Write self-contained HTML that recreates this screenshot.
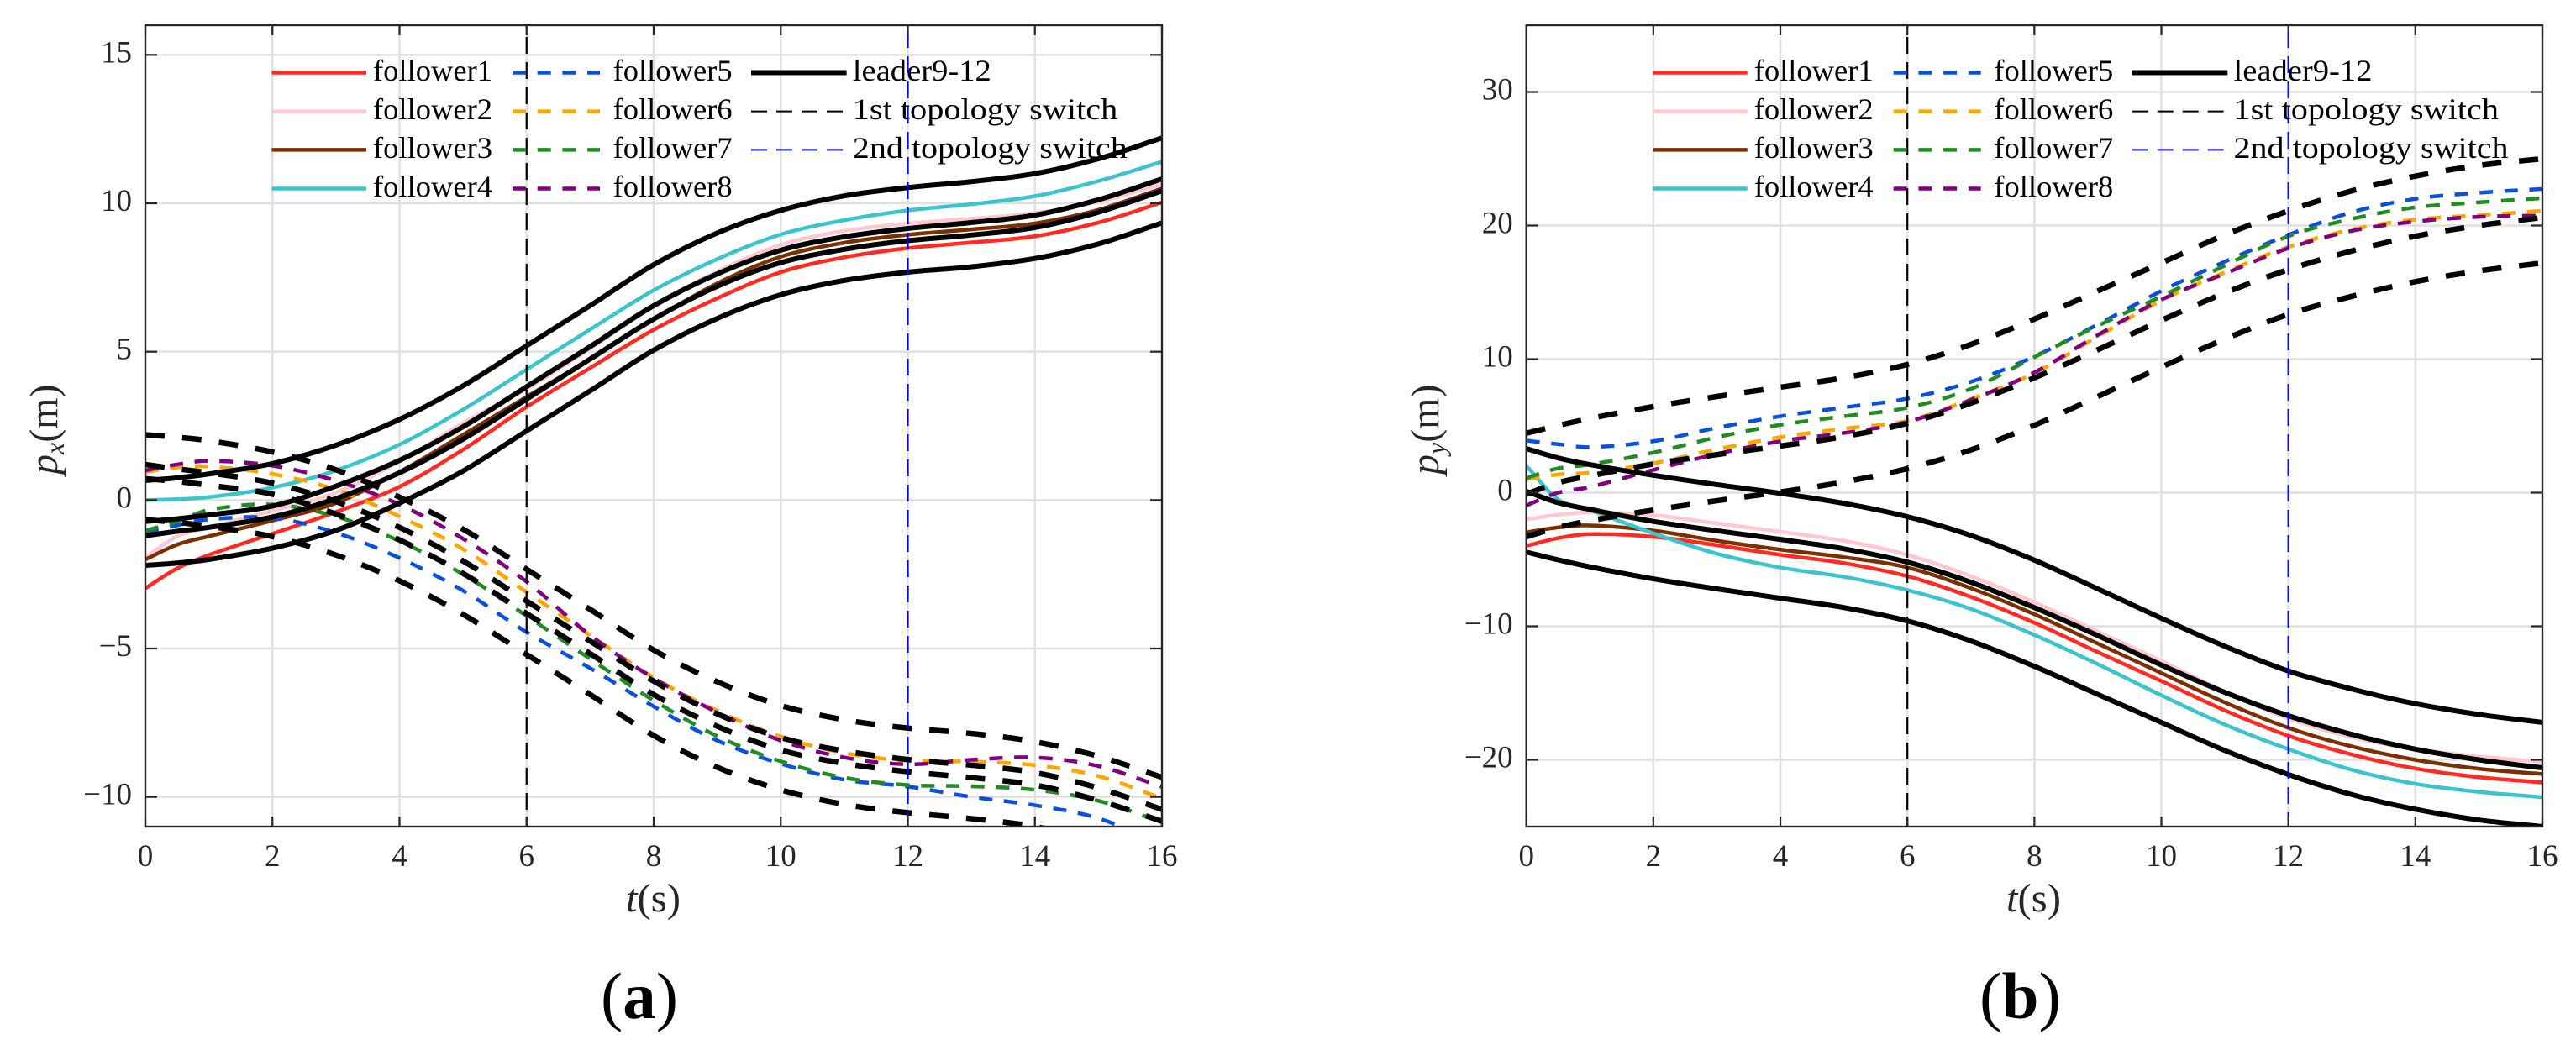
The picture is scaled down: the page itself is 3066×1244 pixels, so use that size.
<!DOCTYPE html>
<html lang="en">
<head>
<meta charset="utf-8">
<title>Follower and leader position trajectories</title>
<style>
html,body{margin:0;padding:0;background:#fff;}
svg{display:block;font-family:"Liberation Serif",serif;}
</style>
</head>
<body>
<svg id="figure" xmlns="http://www.w3.org/2000/svg" width="3066" height="1244" viewBox="0 0 3066 1244">
<rect width="3066" height="1244" fill="#ffffff"/>
<text x="715" y="1212" font-size="78" textLength="92" lengthAdjust="spacingAndGlyphs" fill="#000">(<tspan font-weight="bold">a</tspan>)</text>
<text x="2356" y="1212" font-size="78" textLength="97" lengthAdjust="spacingAndGlyphs" fill="#000">(<tspan font-weight="bold">b</tspan>)</text>
<text x="745" y="1085" font-size="48" textLength="65" lengthAdjust="spacingAndGlyphs" fill="#262626"><tspan font-style="italic">t</tspan>(s)</text>
<text x="2388" y="1085" font-size="48" textLength="65" lengthAdjust="spacingAndGlyphs" fill="#262626"><tspan font-style="italic">t</tspan>(s)</text>
<text transform="translate(68 565) rotate(-90)" font-size="48" fill="#262626"><tspan font-style="italic">p</tspan><tspan font-style="italic" font-size="32" dy="8">x</tspan><tspan dy="-8">(m)</tspan></text>
<text transform="translate(1712 565) rotate(-90)" font-size="48" fill="#262626"><tspan font-style="italic">p</tspan><tspan font-style="italic" font-size="32" dy="8">y</tspan><tspan dy="-8">(m)</tspan></text>
</svg>
<script>
// ---- shared data ----
const times = [0,0.5,1,2,3,4,5,6,7,8,9,10,11,12,13,14,15,16];
const xTicks = [0,2,4,6,8,10,12,14,16];
const switchTimes = [6,12];
const pxTicks = [-10,-5,0,5,10,15];
const pyTicks = [-20,-10,0,10,20,30];
const legendFollowers = ['follower1','follower2','follower3','follower4','follower5','follower6','follower7','follower8'];
const legendThird = ['leader9-12','1st topology switch','2nd topology switch'];

// ---- panel (a): p_x ----
const pxF1 = [-2.97,-2.3,-1.85,-1.13,-0.4,0.45,1.7,3.14,4.45,5.74,6.8,7.68,8.18,8.49,8.68,8.89,9.35,10.03];
const pxF2 = [-1.93,-1.22,-0.92,-0.36,0.25,1.3,2.6,3.75,5.1,6.55,7.7,8.6,9.07,9.32,9.48,9.67,10.05,10.65];
const pxF3 = [-2,-1.5,-1.22,-0.69,-0.1,0.95,2.2,3.48,4.75,6.08,7.3,8.2,8.67,8.94,9.12,9.32,9.78,10.5];
const pxF4 = [0,0.03,0.1,0.42,1,1.87,3.05,4.4,5.75,7.07,8.12,8.95,9.43,9.76,9.97,10.24,10.75,11.4];
const pxF5 = [-1.08,-0.85,-0.65,-0.6,-1.1,-1.95,-3.05,-4.45,-5.66,-6.95,-8.1,-8.88,-9.42,-9.65,-10,-10.28,-10.72,-11.6];
const pxF6 = [0.95,1.1,1.13,0.88,0.35,-0.55,-1.65,-3.1,-4.55,-5.98,-7.1,-7.97,-8.52,-8.78,-8.81,-8.93,-9.3,-10.05];
const pxF7 = [-1.03,-0.72,-0.33,-0.15,-0.55,-1.38,-2.5,-3.9,-5.35,-6.75,-7.95,-8.8,-9.35,-9.6,-9.64,-9.76,-10.13,-10.85];
const pxF8 = [1,1.2,1.32,1.16,0.65,-0.15,-1.3,-2.75,-4.55,-6,-7.15,-8.1,-8.67,-8.9,-8.75,-8.67,-8.96,-9.66];
const pxSolidA = [0.66,0.75,0.88,1.23,1.85,2.72,3.85,5.2,6.55,7.93,9,9.76,10.25,10.53,10.73,11,11.5,12.2];
const pxSolidB = [-0.72,-0.63,-0.5,-0.2,0.47,1.34,2.47,3.82,5.17,6.55,7.62,8.42,8.87,9.15,9.35,9.6,10.12,10.82];
const pxSolidC = [-1.2,-1.05,-0.92,-0.57,0.05,0.92,2.05,3.4,4.75,6.1,7.2,8,8.45,8.74,8.93,9.18,9.7,10.42];
const pxSolidD = [-2.2,-2.12,-2,-1.62,-1.02,-0.1,0.98,2.33,3.68,5.05,6.12,6.92,7.4,7.68,7.86,8.14,8.63,9.34];
const pxDashA = [-0.66,-0.75,-0.88,-1.23,-1.85,-2.72,-3.85,-5.2,-6.55,-7.93,-9,-9.76,-10.25,-10.53,-10.73,-11,-11.5,-12.2];
const pxDashB = [0.72,0.63,0.5,0.2,-0.47,-1.34,-2.47,-3.82,-5.17,-6.55,-7.62,-8.42,-8.87,-9.15,-9.35,-9.6,-10.12,-10.82];
const pxDashC = [1.2,1.05,0.92,0.57,-0.05,-0.92,-2.05,-3.4,-4.75,-6.1,-7.2,-8,-8.45,-8.74,-8.93,-9.18,-9.7,-10.42];
const pxDashD = [2.2,2.12,2,1.62,1.02,0.1,-0.98,-2.33,-3.68,-5.05,-6.12,-6.92,-7.4,-7.68,-7.86,-8.14,-8.63,-9.34];

// ---- panel (b): p_y ----
const pyF1 = [-3.98,-3.4,-3.1,-3.3,-3.93,-4.65,-5.27,-6.25,-7.8,-9.74,-11.94,-14.1,-16.3,-18.2,-19.6,-20.65,-21.3,-21.7];
const pyF2 = [-2,-1.65,-1.48,-1.68,-2.3,-2.92,-3.6,-4.65,-6.25,-8.2,-10.4,-12.6,-14.9,-16.9,-18.3,-19.2,-19.75,-20.15];
const pyF3 = [-2.97,-2.6,-2.45,-2.84,-3.6,-4.26,-4.83,-5.6,-7.15,-9.1,-11.3,-13.5,-15.7,-17.6,-19,-20,-20.67,-21.06];
const pyF4 = [2,-0.5,-1.3,-3.04,-4.57,-5.6,-6.3,-7.29,-8.7,-10.65,-12.84,-15.17,-17.36,-19.2,-20.75,-21.8,-22.4,-22.8];
const pyF5 = [3.9,3.63,3.41,3.85,4.86,5.72,6.38,7.05,8.3,10.2,12.6,15.1,17.3,19.3,21,22,22.46,22.74];
const pyF6 = [1,1.36,1.5,2.2,3.25,4.15,4.8,5.38,7,8.95,11.7,14.4,16.5,18.4,19.7,20.45,20.77,21.1];
const pyF7 = [1.1,1.82,2.1,3,4.15,5.08,5.72,6.36,7.77,10.15,12.5,14.7,17,19.2,20.5,21.36,21.74,22.05];
const pyF8 = [-0.95,0,0.42,1.7,2.9,3.85,4.47,5.3,6.95,9,11.8,14.45,16.4,18.3,19.6,20.3,20.65,20.75];
const pySolidA = [3.3,2.6,2.1,1.3,0.6,-0.05,-0.8,-1.8,-3.2,-5.05,-7.2,-9.4,-11.5,-13.35,-14.7,-15.8,-16.6,-17.2];
const pySolidB = [0.1,-0.75,-1.25,-2.15,-2.85,-3.5,-4.2,-5.2,-6.7,-8.6,-10.7,-12.9,-14.95,-16.7,-18.1,-19.2,-20,-20.6];
const pySolidC = [-4.45,-5.03,-5.55,-6.45,-7.2,-7.9,-8.6,-9.6,-11.1,-13,-15.1,-17.2,-19.3,-21.1,-22.6,-23.7,-24.5,-25];
const pyDashA = [-3.3,-2.6,-2.1,-1.3,-0.6,0.05,0.8,1.8,3.2,5.05,7.2,9.4,11.5,13.35,14.7,15.8,16.6,17.2];
const pyDashB = [-0.1,0.75,1.25,2.15,2.85,3.5,4.2,5.2,6.7,8.6,10.7,12.9,14.95,16.7,18.1,19.2,20,20.6];
const pyDashC = [4.45,5.03,5.55,6.45,7.2,7.9,8.6,9.6,11.1,13,15.1,17.2,19.3,21.1,22.6,23.7,24.5,25];

const COLORS = ['#ff2a22','#ffc8d0','#7a3000','#3cc4cc','#0a50e0','#ffa500','#228b22','#800080'];
const NS = 'http://www.w3.org/2000/svg';
const svg = document.getElementById('figure');

function make(parent, tag, attrs, text) {
  const el = document.createElementNS(NS, tag);
  for (const k in attrs) el.setAttribute(k, attrs[k]);
  if (text !== undefined) el.textContent = text;
  parent.appendChild(el);
  return el;
}

function linearScale(d0, d1, r0, r1) {
  return v => r0 + (v - d0) * (r1 - r0) / (d1 - d0);
}

// Smooth curve through the data points (Catmull-Rom to Bezier)
function curvePath(xs, ys, sx, sy) {
  const p = xs.map((x, i) => [sx(x), sy(ys[i])]);
  let d = 'M' + p[0][0].toFixed(2) + ' ' + p[0][1].toFixed(2);
  for (let i = 0; i < p.length - 1; i++) {
    const p0 = p[Math.max(i - 1, 0)], p1 = p[i], p2 = p[i + 1], p3 = p[Math.min(i + 2, p.length - 1)];
    const h = p2[0] - p1[0];
    const m1 = (p2[1] - p0[1]) / ((p2[0] - p0[0]) || 1);
    const m2 = (p3[1] - p1[1]) / ((p3[0] - p1[0]) || 1);
    d += 'C' + (p1[0] + h / 3).toFixed(2) + ' ' + (p1[1] + m1 * h / 3).toFixed(2) + ' ' +
         (p2[0] - h / 3).toFixed(2) + ' ' + (p2[1] - m2 * h / 3).toFixed(2) + ' ' +
         p2[0].toFixed(2) + ' ' + p2[1].toFixed(2);
  }
  return d;
}

function drawPanel(cfg) {
  const L = cfg.left, R = cfg.right, T = 30, B = 984;
  const sx = linearScale(0, 16, L, R);
  const sy = linearScale(cfg.yMin, cfg.yMax, B, T);
  const g = make(svg, 'g', {});
  
  

  const defs = make(g, 'defs', {});
  const clip = make(defs, 'clipPath', {id: cfg.id + '-clip'});
  make(clip, 'rect', {x: L, y: T, width: R - L, height: B - T});

  // grid
  xTicks.forEach(v => {
    if (v === 0 || v === 16) return;
    const grid = make(g, 'line', {x1: sx(v), x2: sx(v), y1: T, y2: B, stroke: '#e0e0e0', 'stroke-width': 2.5});
    
    
  });
  cfg.yTicks.forEach(v => {
    const grid = make(g, 'line', {x1: L, x2: R, y1: sy(v), y2: sy(v), stroke: '#e0e0e0', 'stroke-width': 2.5});
    
    
  });

  // series
  const plot = make(g, 'g', {'clip-path': 'url(#' + cfg.id + '-clip)'});
  
  
  cfg.followers.forEach((vals, i) => {
    const dashed = i >= 4;
    const attrs = {d: curvePath(times, vals, sx, sy), fill: 'none', stroke: COLORS[i], 'stroke-width': 4.5};
    if (dashed) attrs['stroke-dasharray'] = '16 13.7';
    const line = make(plot, 'path', attrs);
    
    
  });
  cfg.solid.forEach(vals => {
    const line = make(plot, 'path', {d: curvePath(times, vals, sx, sy), fill: 'none', stroke: '#000', 'stroke-width': 6});
    
    
  });
  cfg.dashed.forEach(vals => {
    const line = make(plot, 'path', {d: curvePath(times, vals, sx, sy), fill: 'none', stroke: '#000', 'stroke-width': 6.5, 'stroke-dasharray': '23 21'});
    
    
  });

  // topology switch markers
  switchTimes.forEach((v, i) => {
    const line = make(g, 'line', {x1: sx(v), x2: sx(v), y1: T, y2: B, stroke: i === 0 ? '#000' : '#0000ff', 'stroke-width': 2.2, 'stroke-dasharray': '20 10', 'stroke-dashoffset': i === 0 ? 16 : 23});
    
    
  });

  // axes box
  const box = make(g, 'rect', {x: L, y: T, width: R - L, height: B - T, fill: 'none', stroke: '#262626', 'stroke-width': 2.4});
  
  

  // ticks + labels
  xTicks.forEach(v => {
    const x = sx(v);
    const tickB = make(g, 'line', {x1: x, x2: x, y1: B, y2: B - 12, stroke: '#262626', 'stroke-width': 2.2});
    
    
    const tickT = make(g, 'line', {x1: x, x2: x, y1: T, y2: T + 12, stroke: '#262626', 'stroke-width': 2.2});
    
    
    const label = make(g, 'text', {x: x, y: 1031, 'text-anchor': 'middle', 'font-size': 37, fill: '#262626'}, String(v));
    
    
  });
  cfg.yTicks.forEach(v => {
    const y = sy(v);
    const tickL = make(g, 'line', {x1: L, x2: L + 14, y1: y, y2: y, stroke: '#262626', 'stroke-width': 2.2});
    
    
    const tickR = make(g, 'line', {x1: R, x2: R - 14, y1: y, y2: y, stroke: '#262626', 'stroke-width': 2.2});
    
    
    const label = make(g, 'text', {x: L - 16, y: y + 9, 'text-anchor': 'end', 'font-size': 37, fill: '#262626'}, (v < 0 ? '\u2212' : '') + Math.abs(v));
    
    
  });

  // legend
  const dx = cfg.legendDx;
  const rows = [86.5, 132.6, 178.4, 224.5];
  const lg = make(g, 'g', {transform: 'translate(' + dx + ' 0)'});
  
  
  legendFollowers.forEach((name, i) => {
    const dashed = i >= 4;
    const row = rows[i % 4];
    const x1 = dashed ? 610 : 323.5, x2 = dashed ? 714 : 436;
    const attrs = {x1: x1, x2: x2, y1: row, y2: row, stroke: COLORS[i], 'stroke-width': 4.5};
    if (dashed) attrs['stroke-dasharray'] = '16 13.7';
    const sample = make(lg, 'line', attrs);
    
    
    const text = make(lg, 'text', {x: dashed ? 729.6 : 444, y: row + 9.5, 'font-size': 36, fill: '#000', textLength: 142, lengthAdjust: 'spacingAndGlyphs'}, name);
    
    
  });
  const thirdStroke = ['#000', '#000', '#0000ff'];
  const thirdWidth = [6, 2, 2];
  const thirdLen = [165, 315.5, 327];
  legendThird.forEach((name, i) => {
    const attrs = {x1: 894, x2: i === 0 ? 1007.6 : 1004, y1: rows[i], y2: rows[i], stroke: thirdStroke[i], 'stroke-width': thirdWidth[i]};
    if (i > 0) attrs['stroke-dasharray'] = '19 11';
    const sample = make(lg, 'line', attrs);
    
    
    const text = make(lg, 'text', {x: 1014.8, y: rows[i] + 9.5, 'font-size': 36, fill: '#000', textLength: thirdLen[i], lengthAdjust: 'spacingAndGlyphs'}, name);
    
    
  });
}

drawPanel({
  id: 'panel-a', left: 173, right: 1383, yMin: -11, yMax: 16, yTicks: pxTicks, legendDx: 0,
  followers: [pxF1, pxF2, pxF3, pxF4, pxF5, pxF6, pxF7, pxF8],
  solid: [pxSolidA, pxSolidB, pxSolidC, pxSolidD],
  dashed: [pxDashA, pxDashB, pxDashC, pxDashD]
});
drawPanel({
  id: 'panel-b', left: 1816.7, right: 3026, yMin: -25, yMax: 35, yTicks: pyTicks, legendDx: 1643.7,
  followers: [pyF1, pyF2, pyF3, pyF4, pyF5, pyF6, pyF7, pyF8],
  solid: [pySolidA, pySolidB, pySolidC],
  dashed: [pyDashA, pyDashB, pyDashC]
});
</script>
</body>
</html>
